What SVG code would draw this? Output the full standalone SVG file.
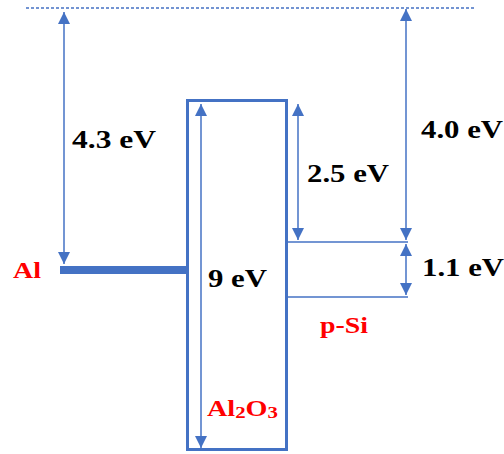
<svg xmlns="http://www.w3.org/2000/svg" width="504" height="454" viewBox="0 0 504 454">
<defs>
<marker id="ah" viewBox="0 0 12 12" refX="12" refY="6" markerWidth="13" markerHeight="12" markerUnits="userSpaceOnUse" orient="auto-start-reverse">
<path d="M0,0 L12,6 L0,12 Z" fill="#4472C4"/>
</marker>
<style>
.ln{stroke:#4472C4;stroke-width:1.5;fill:none}
.ar{stroke:#4472C4;stroke-width:1.5;fill:none;marker-start:url(#ah);marker-end:url(#ah)}
.lb{font-family:"Liberation Serif","Times New Roman",serif;font-weight:bold;font-size:26px;fill:#000}
.rd{font-family:"Liberation Serif","Times New Roman",serif;font-weight:bold;font-size:23px;fill:#FF0000}
</style>
</defs>
<rect width="504" height="454" fill="#fff"/>
<g id="vacuum">
<line x1="26" y1="8" x2="475" y2="8" stroke="#4472C4" stroke-width="1.5" stroke-dasharray="3,2"/>
</g>
<g id="al">
<rect x="60" y="266" width="128" height="8" fill="#4472C4"/>
<text class="rd" x="13" y="278" textLength="28" lengthAdjust="spacingAndGlyphs">Al</text>
</g>
<g id="al2o3">
<rect x="187.5" y="100.5" width="99" height="349" fill="none" stroke="#4472C4" stroke-width="3"/>
<text class="rd" x="207" y="416" textLength="71" lengthAdjust="spacingAndGlyphs">Al<tspan font-size="17" dy="2">2</tspan><tspan dy="-2">O</tspan><tspan font-size="17" dy="2">3</tspan></text>
</g>
<g id="psi">
<line class="ln" x1="287" y1="242" x2="408" y2="242"/>
<line class="ln" x1="287" y1="297" x2="408" y2="297"/>
<text class="rd" x="320" y="333" textLength="48" lengthAdjust="spacingAndGlyphs">p-Si</text>
</g>
<g id="connectors">
<line class="ar" x1="64" y1="12" x2="64" y2="264"/>
<line class="ar" x1="201" y1="104" x2="201" y2="448"/>
<line class="ar" x1="298" y1="104" x2="298" y2="240"/>
<line class="ar" x1="406" y1="9" x2="406" y2="240"/>
<line class="ar" x1="406" y1="244" x2="406" y2="295"/>
</g>
<g id="labels">
<text class="lb" x="72" y="148" textLength="84" lengthAdjust="spacingAndGlyphs">4.3 eV</text>
<text class="lb" x="307" y="182" textLength="82" lengthAdjust="spacingAndGlyphs">2.5 eV</text>
<text class="lb" x="421" y="138" textLength="82" lengthAdjust="spacingAndGlyphs">4.0 eV</text>
<text class="lb" x="422" y="276" textLength="82" lengthAdjust="spacingAndGlyphs">1.1 eV</text>
<text class="lb" x="208" y="287" textLength="59" lengthAdjust="spacingAndGlyphs">9 eV</text>
</g>
</svg>
